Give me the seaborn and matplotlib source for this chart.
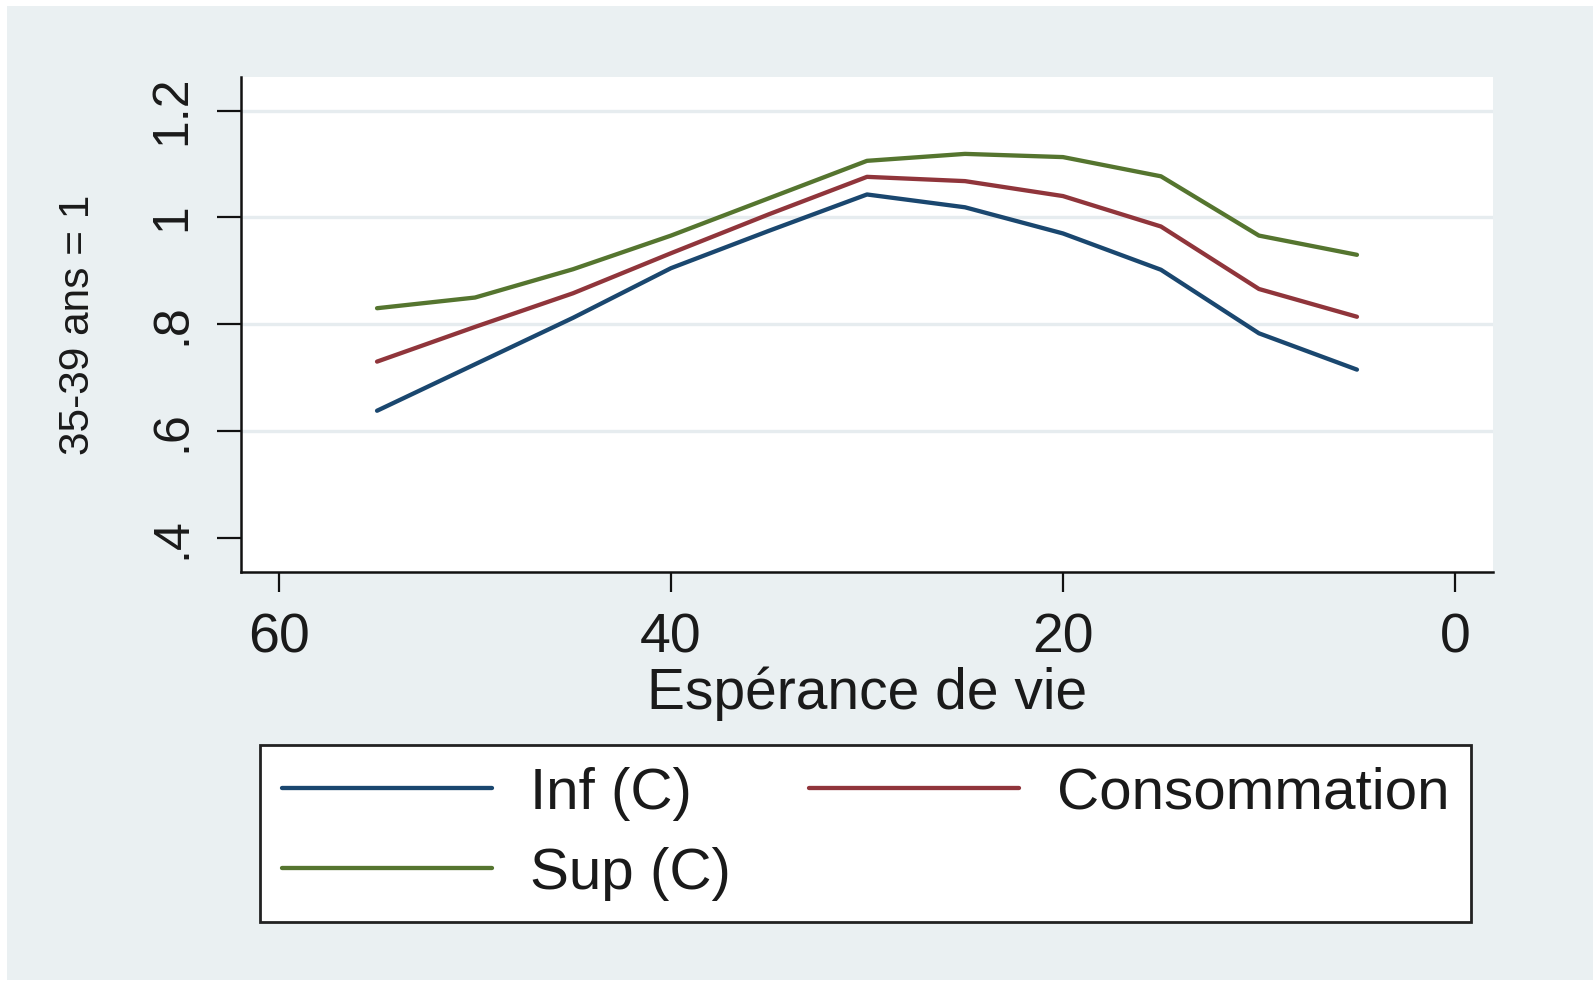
import matplotlib
matplotlib.use("Agg")
import matplotlib.pyplot as plt
from matplotlib import font_manager
from matplotlib.patches import Rectangle
import numpy as np
import pandas as pd
import seaborn as sns

# Remaining life expectancy (x axis) and relative levels, 35-39 age group = 1
esperance = [55, 50, 45, 40, 35, 30, 25, 20, 15, 10, 5]
inf_c = [0.638, 0.725, 0.812, 0.905, 0.975, 1.043, 1.019, 0.970, 0.902, 0.783, 0.715]
consommation = [0.730, 0.795, 0.858, 0.933, 1.006, 1.076, 1.068, 1.040, 0.983, 0.866, 0.814]
sup_c = [0.830, 0.850, 0.903, 0.966, 1.036, 1.106, 1.119, 1.113, 1.077, 0.966, 0.930]

series_names = ["Inf (C)", "Consommation", "Sup (C)"]
series_colors = ["#1a476f", "#90353b", "#55752f"]
x_ticks = [60, 40, 20, 0]
y_ticks = [0.4, 0.6, 0.8, 1.0, 1.2]
y_tick_labels = [".4", ".6", ".8", "1", "1.2"]

df = pd.DataFrame({
    "Espérance de vie": esperance * 3,
    "valeur": inf_c + consommation + sup_c,
    "serie": [n for n in series_names for _ in esperance],
})

sns.set_theme(style="ticks")
installed = {f.name for f in font_manager.fontManager.ttflist}
base_family = ["Liberation Sans", "DejaVu Sans"]
plt.rcParams["font.family"] = base_family
if "Liberation Sans Narrow" in installed:
    rot_family = ["Liberation Sans Narrow", "Liberation Sans"]
    ytick_size, ylabel_size = 41, 37
else:
    rot_family = base_family
    ytick_size, ylabel_size = 36, 30.5

text_color = "#1a1a1a"
bg_color = "#eaf0f2"
line_w = 3.1

fig = plt.figure(figsize=(15.93, 9.82), dpi=100, facecolor="white")
# light graph region inside a thin white margin
fig.patches.append(Rectangle((7 / 1593, 2 / 982), 1 - 7 / 1593, 1 - 8 / 982,
                             transform=fig.transFigure, facecolor=bg_color,
                             edgecolor="none", zorder=-10))

ax = fig.add_axes([0.1513, 0.4175, 0.7859, 0.5041])
ax.set_facecolor("white")

sns.lineplot(data=df, x="Espérance de vie", y="valeur", hue="serie",
             hue_order=series_names, palette=series_colors, linewidth=line_w,
             ax=ax, legend=True)

ax.set_xlim(61.94, -1.94)
ax.set_ylim(0.336, 1.263)
ax.set_xticks(x_ticks)
ax.set_yticks(y_ticks)
ax.set_yticklabels(y_tick_labels)

for side in ["top", "right"]:
    ax.spines[side].set_visible(False)
for side in ["left", "bottom"]:
    ax.spines[side].set_color("#111111")
    ax.spines[side].set_linewidth(1.8)

ax.tick_params(axis="x", length=14.5, width=1.6, color="#111111", pad=15,
               labelsize=40, labelcolor=text_color)
ax.tick_params(axis="y", length=17, width=1.6, color="#111111", pad=16,
               labelsize=ytick_size, labelcolor=text_color, labelrotation=90)
for lab in ax.get_yticklabels():
    lab.set_va("center")
    lab.set_family(rot_family)
for lab in ax.get_xticklabels():
    lab.set_family(base_family)

ax.yaxis.grid(True, color="#e6ecef", linewidth=2.4)
ax.xaxis.grid(False)
ax.set_axisbelow(True)
ax.get_ygridlines()[0].set_visible(False)

ax.set_xlabel("Espérance de vie", fontsize=41, color=text_color, labelpad=1)
ax.set_ylabel("35-39 ans = 1", fontsize=ylabel_size, color=text_color,
              labelpad=37, family=rot_family)

handles, labels = ax.get_legend_handles_labels()
ax.get_legend().remove()
lookup = dict(zip(labels, handles))
order = ["Inf (C)", "Sup (C)", "Consommation"]
leg = fig.legend([lookup[k] for k in order], order,
                 loc="upper left",
                 bbox_to_anchor=(260 / 1593, 1 - 922 / 982, 1211 / 1593, 177 / 982),
                 mode="expand", ncol=2, fontsize=42, frameon=True,
                 fancybox=False, shadow=False, framealpha=1,
                 facecolor="white", edgecolor="#222222",
                 borderpad=0.37, labelspacing=0.45, handlelength=3.6,
                 handletextpad=0.65, borderaxespad=0)
leg.get_frame().set_linewidth(2.0)
for t in leg.get_texts():
    t.set_color(text_color)
for h in leg.legend_handles:
    h.set_linewidth(line_w)

fig.savefig("out.png", dpi=100, facecolor=fig.get_facecolor())
